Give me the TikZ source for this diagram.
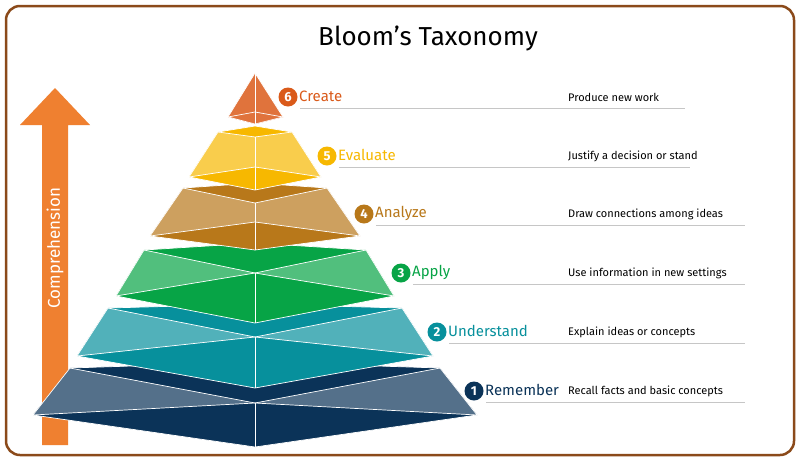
\documentclass[tikz,border=0pt]{standalone}
\usepackage{fontspec}
\setmainfont{Fira Sans}
\begin{document}
\begin{tikzpicture}[x=1pt,y=-1pt,
  edge/.style={white,line width=0.7pt,line join=round},
  num/.style={circle,fill=#1,text=white,inner sep=0pt,minimum size=19pt,font=\bfseries\fontsize{13}{13}\selectfont},
  lvl/.style={text=#1,anchor=west,inner sep=1pt,font=\fontsize{15}{15}\selectfont},
  desc/.style={anchor=west,inner sep=0pt,font=\fontsize{11}{11}\selectfont,text=black},
  rule/.style={draw=gray!45,line width=0.8pt}]
\useasboundingbox (0,0) rectangle (800,461);
\definecolor{brd}{HTML}{8B4A1A}
\definecolor{arr}{HTML}{EF8030}
\draw[brd,line width=2.5pt,rounded corners=14pt,fill=white] (6,6) rectangle (794,455);
\node (title) at (428,38) {\fontsize{26}{26}\selectfont Bloom’s Taxonomy};
% arrow
\fill[arr] (42,445) -- (42,125) -- (20,125) -- (55,88) -- (90,125) -- (68,125) -- (68,445) -- cycle;
\node[rotate=90,text=white,font=\fontsize{17}{17}\selectfont] (comp) at (55,248) {Comprehension};
% layers
\newcommand\pyrlayer[9]{%
 \def\c{255}%
 \fill[#9] (\c-#2,#1) -- (\c,#3) -- (\c+#2,#1) -- (\c+#7,#6) -- (\c,#8) -- (\c-#7,#6) -- cycle;
 \fill[#9!70!white] (\c-#2,#1) -- (\c,#4) -- (\c,#5) -- (\c-#7,#6) -- cycle;
 \fill[#9!70!white] (\c+#2,#1) -- (\c,#4) -- (\c,#5) -- (\c+#7,#6) -- cycle;
 \draw[edge] (\c-#2,#1) -- (\c,#3) -- (\c+#2,#1) -- (\c+#7,#6) -- (\c,#8) -- (\c-#7,#6) -- cycle;
 \draw[edge] (\c-#2,#1) -- (\c,#4) -- (\c+#2,#1);
 \draw[edge] (\c-#7,#6) -- (\c,#5) -- (\c+#7,#6);
 \draw[edge] (\c,#4) -- (\c,#8);}
\definecolor{c1}{HTML}{0B3358}
\definecolor{c2}{HTML}{07909C}
\definecolor{c3}{HTML}{07A446}
\definecolor{c4}{HTML}{B8781A}
\definecolor{c5}{HTML}{F7B800}
\definecolor{c6}{HTML}{DA5A1A}
\pyrlayer{368}{185}{362}{403}{403}{415}{222}{447}{c1}
\pyrlayer{308}{147}{304}{337}{337}{356}{178}{388}{c2}
\pyrlayer{250}{111}{243}{273}{273}{296}{139}{323}{c3}
\pyrlayer{188}{72}{183}{203}{222}{236}{105}{250}{c4}
\pyrlayer{132}{37}{126}{137}{167}{177}{66}{190}{c5}
% top
\fill[c6] (228,117) -- (255,112) -- (283,117) -- (255,124) -- cycle;
\fill[c6!85!white] (255,73) -- (228,117) -- (255,124) -- (283,117) -- cycle;
\draw[edge] (255,73) -- (228,117) -- (255,124) -- (283,117) -- cycle;
\draw[edge] (228,117) -- (255,112) -- (283,117);
\draw[edge] (255,73) -- (255,124);
% labels
\newcommand\lab[7]{%
 \draw[rule] (#2+12,#3+11) -- (#6,#3+11);
 \node[num=#5] (n#7) at (#2,#3) {#1};
 \node[lvl=#5] (l#7) at (#2+10,#3-1) {#4};
 \node[desc] (d#7) at (568,#3) {#7};}
\lab{6}{288}{97}{Create}{c6}{685}{Produce new work}
\lab{5}{327}{156}{Evaluate}{c5}{690}{Justify a decision or stand}
\lab{4}{364}{214}{Analyze}{c4}{745}{Draw connections among ideas}
\lab{3}{401}{273}{Apply}{c3}{745}{Use information in new settings}
\lab{2}{437}{332}{Understand}{c2}{745}{Explain ideas or concepts}
\lab{1}{474}{391}{Remember}{c1}{745}{Recall facts and basic concepts}
\end{tikzpicture}
\end{document}
